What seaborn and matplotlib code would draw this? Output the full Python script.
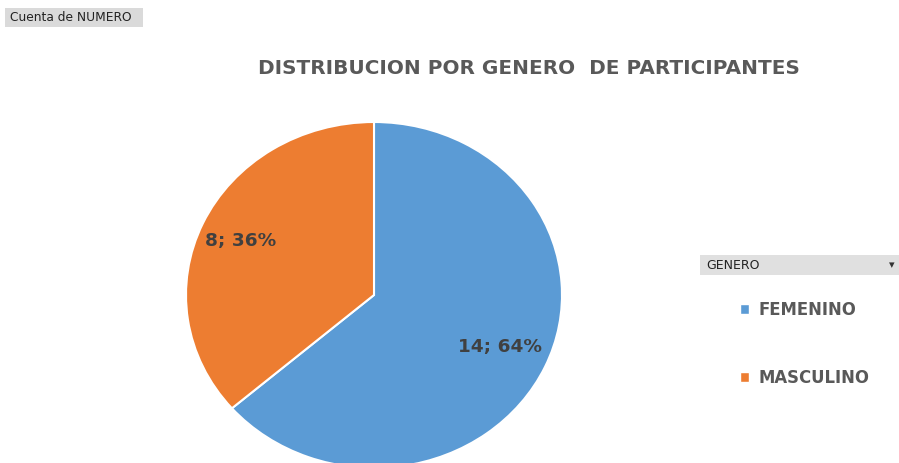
import matplotlib
matplotlib.use("Agg")
import matplotlib.pyplot as plt
import matplotlib.patches as mpatches
import seaborn as sns

# data
generos = ["FEMENINO", "MASCULINO"]
cuentas = [14, 8]
colores = ["#5B9BD5", "#ED7D31"]

sns.set_theme(style="white")
plt.rcParams['font.family'] = ['DejaVu Sans']

fig = plt.figure(figsize=(8.99, 4.63), dpi=100)
fig.patch.set_facecolor("white")

# pie axes (slightly stretched sideways, bottom cut off by the figure edge)
ax = fig.add_axes([186 / 899, 1 - 468 / 463, 376 / 899, 346 / 463])
total = sum(cuentas)
wedges, _ = ax.pie(cuentas, colors=sns.color_palette(colores), startangle=90,
                   counterclock=False, radius=1,
                   wedgeprops=dict(edgecolor="white", linewidth=1.5))
ax.set_xlim(-1.0, 1.0)
ax.set_ylim(-1.0, 1.0)
ax.set_aspect("auto")
ax.axis("off")

# data labels "n; pct%"
pos = [(0.67, -0.30), (-0.71, 0.31)]
for (x, y), n in zip(pos, cuentas):
    ax.text(x, y, f"{n}; {round(n / total * 100)}%", ha="center", va="center",
            fontsize=13.3, fontweight="bold", color="#404040")

fig.text(529 / 899, 1 - 68 / 463, "DISTRIBUCION POR GENERO  DE PARTICIPANTES",
         ha="center", va="center", fontsize=14.4, fontweight="bold", color="#595959")

# pivot field buttons
fig.patches.append(mpatches.Rectangle((5 / 899, 1 - 27 / 463), 138 / 899, 19 / 463,
                                      transform=fig.transFigure, facecolor="#DADADA",
                                      edgecolor="none"))
fig.text(10 / 899, 1 - 17.5 / 463, "Cuenta de NUMERO", ha="left", va="center",
         fontsize=8.8, color="#222222")
fig.patches.append(mpatches.Rectangle((700 / 899, 1 - 275 / 463), 199 / 899, 20 / 463,
                                      transform=fig.transFigure, facecolor="#E0E0E0",
                                      edgecolor="none"))
fig.text(706 / 899, 1 - 265.5 / 463, "GENERO", ha="left", va="center",
         fontsize=9, color="#222222")
fig.text(892 / 899, 1 - 265 / 463, "▾", ha="center", va="center",
         fontsize=8, color="#333333")

# legend
handles = [mpatches.Rectangle((0, 0), 1, 1, facecolor=c) for c in colores]
leg = fig.legend(handles, generos, loc="upper left",
                 bbox_to_anchor=(725 / 899, 1 - 286 / 463), frameon=False,
                 handlelength=0.55, handleheight=0.55, handletextpad=0.6,
                 labelspacing=3.05, prop=dict(size=11.9, weight="bold"))
for t in leg.get_texts():
    t.set_color("#595959")

fig.savefig("out.png", dpi=100)
